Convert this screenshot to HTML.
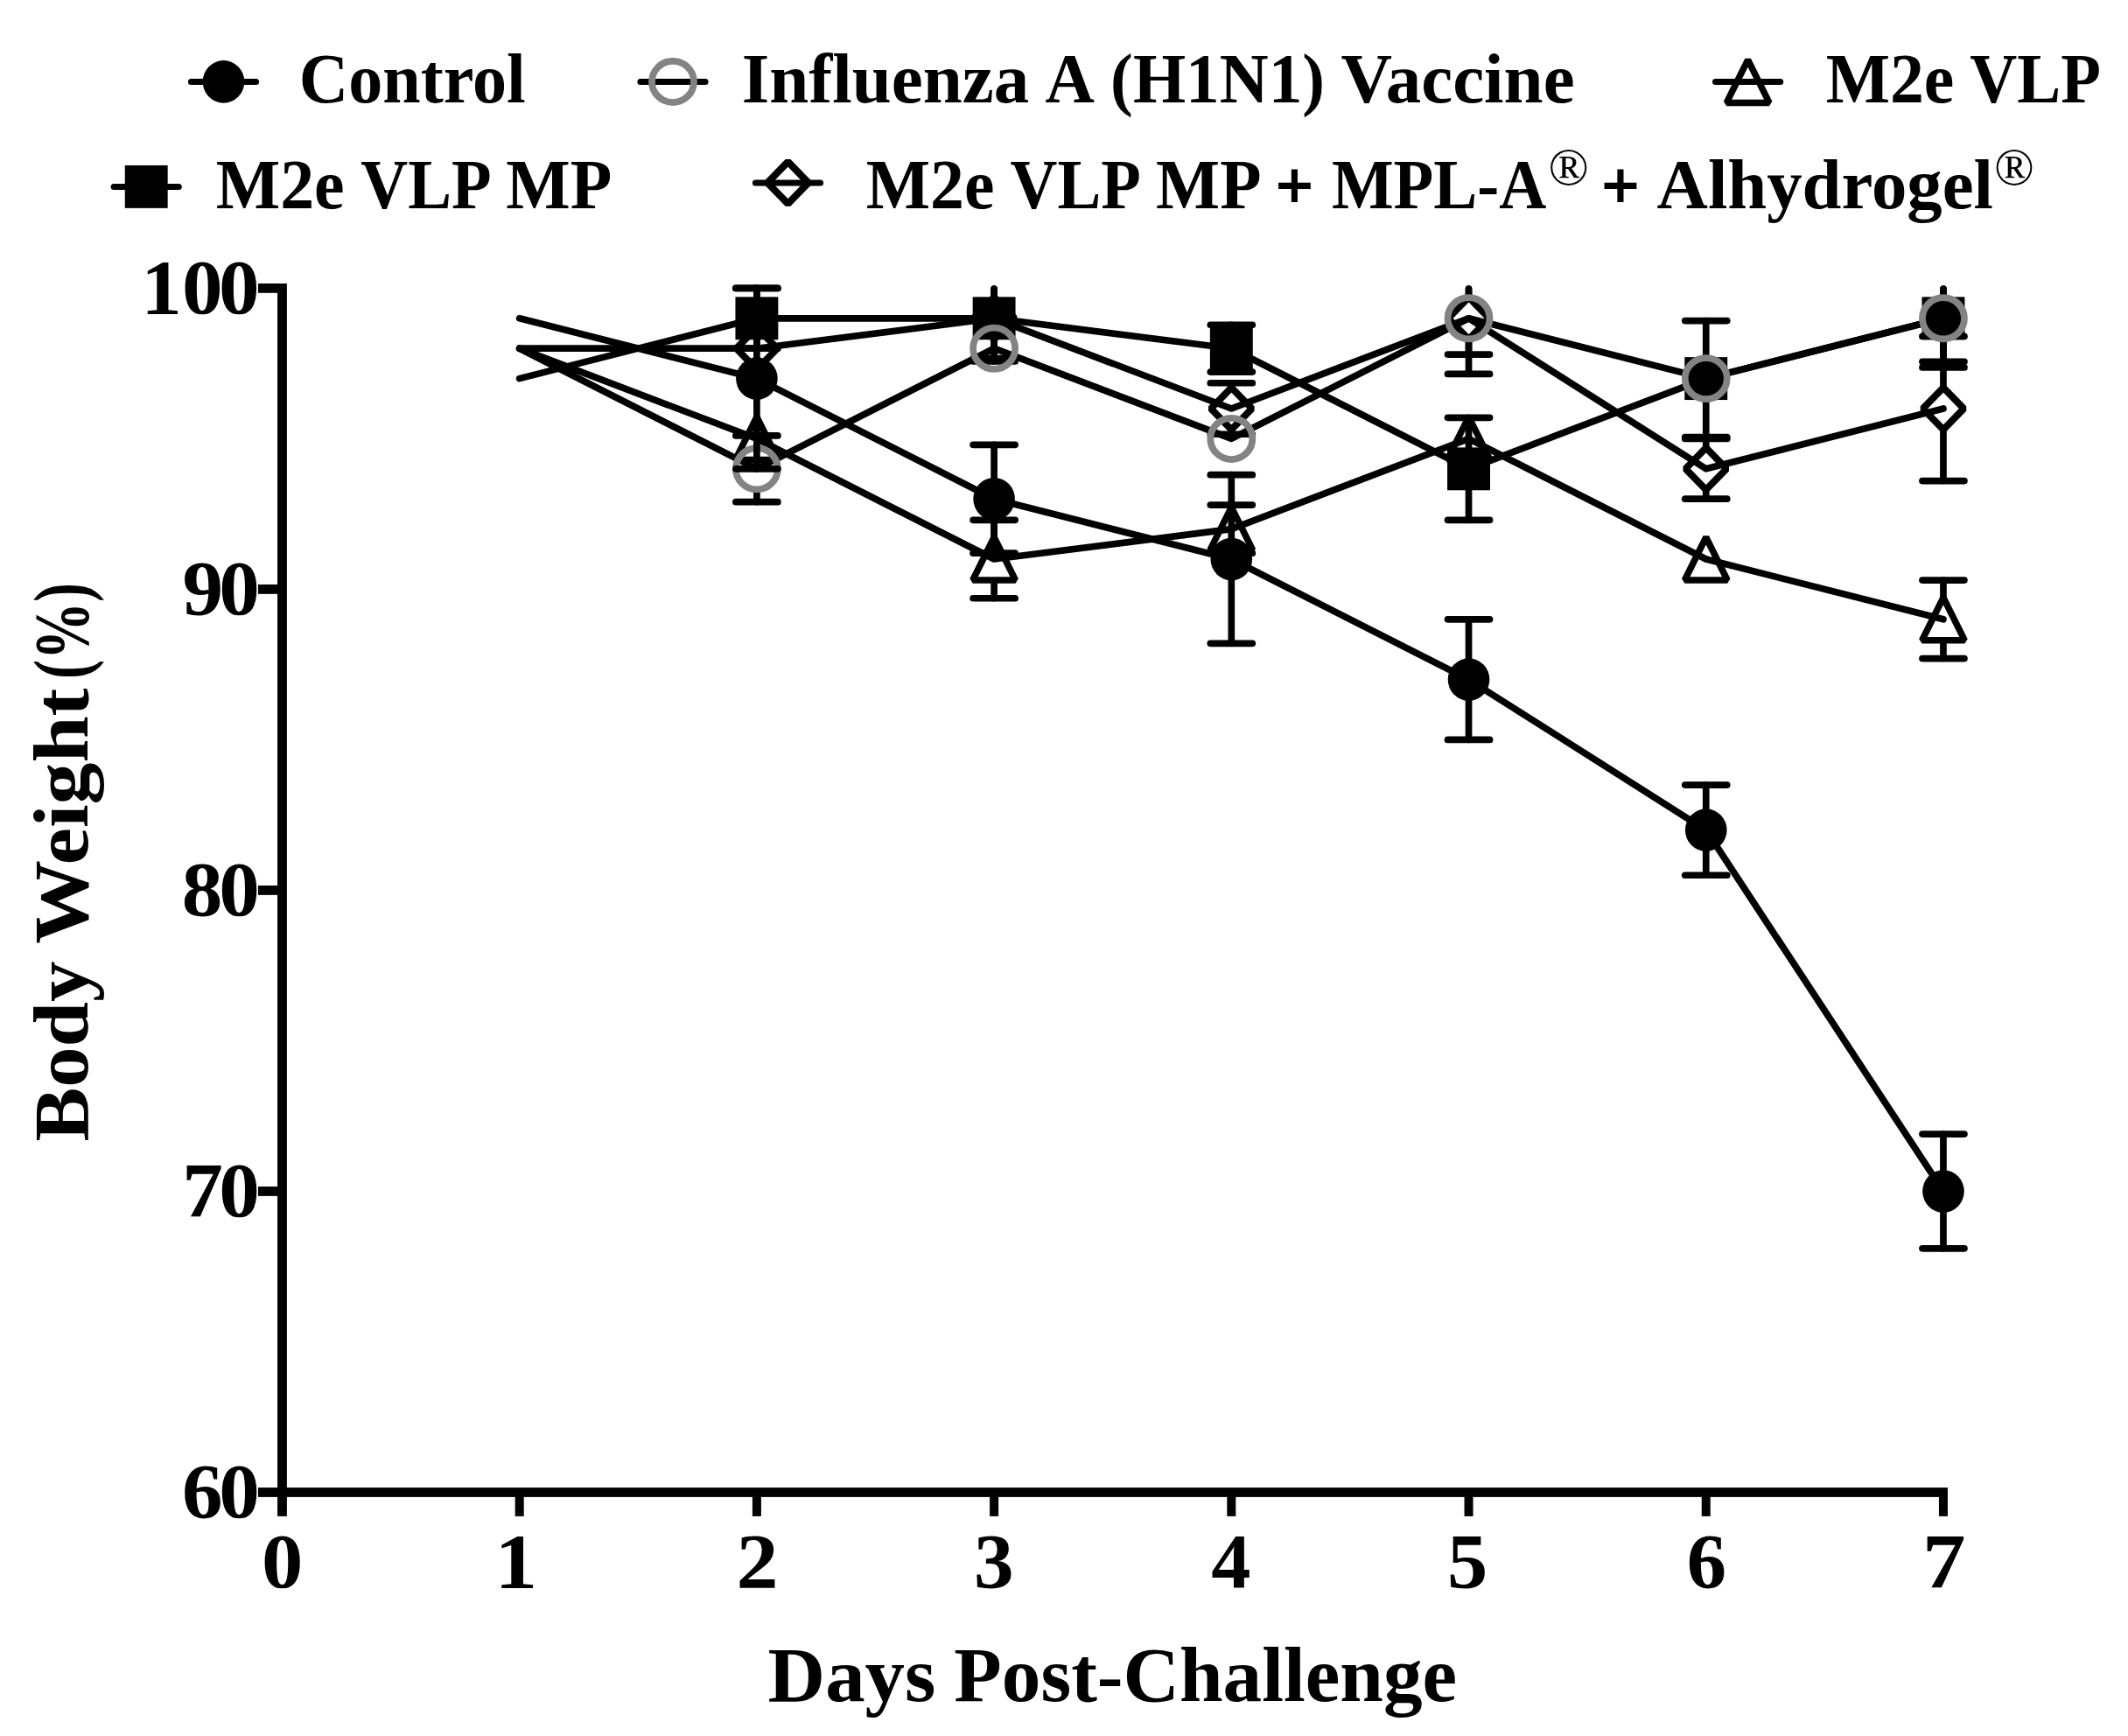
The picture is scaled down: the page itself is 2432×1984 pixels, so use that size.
<!DOCTYPE html>
<html><head><meta charset="utf-8"><title>Body Weight</title>
<style>html,body{margin:0;padding:0;background:#fff}svg{display:block}</style></head>
<body><svg width="2432" height="1984" viewBox="0 0 2432 1984">
<rect width="2432" height="1984" fill="#fff"/>
<g fill="#000">
<rect x="317.08" y="324.00" width="10.8" height="1408.87"/>
<rect x="294.94" y="1700.10" width="1930.98" height="10.8"/>
<rect x="294.94" y="324.00" width="27.54" height="10.8"/>
<rect x="294.94" y="668.02" width="27.54" height="10.8"/>
<rect x="294.94" y="1012.05" width="27.54" height="10.8"/>
<rect x="294.94" y="1356.07" width="27.54" height="10.8"/>
<rect x="588.69" y="1705.50" width="10.0" height="27.37"/>
<rect x="859.90" y="1705.50" width="10.0" height="27.37"/>
<rect x="1131.11" y="1705.50" width="10.0" height="27.37"/>
<rect x="1402.32" y="1705.50" width="10.0" height="27.37"/>
<rect x="1673.53" y="1705.50" width="10.0" height="27.37"/>
<rect x="1944.74" y="1705.50" width="10.0" height="27.37"/>
<rect x="2215.95" y="1705.50" width="10.0" height="27.37"/>
</g>
<g stroke="#000" stroke-width="7.7" stroke-linecap="round" fill="none">
<polyline points="593.69,398.20 864.90,398.20 1136.11,363.80 1407.32,467.01 1678.53,363.80 1949.74,535.82 2220.95,467.01" stroke-linejoin="round"/>
<line x1="1136.11" y1="337.80" x2="1136.11" y2="330.00"/>
<line x1="1136.11" y1="389.80" x2="1136.11" y2="409.56"/>
<line x1="1112.11" y1="409.56" x2="1160.11" y2="409.56"/>
<line x1="1407.32" y1="441.01" x2="1407.32" y2="437.77"/>
<line x1="1383.32" y1="437.77" x2="1431.32" y2="437.77"/>
<line x1="1407.32" y1="493.01" x2="1407.32" y2="496.25"/>
<line x1="1383.32" y1="496.25" x2="1431.32" y2="496.25"/>
<line x1="1678.53" y1="337.80" x2="1678.53" y2="330.00"/>
<line x1="1678.53" y1="389.80" x2="1678.53" y2="405.09"/>
<line x1="1654.53" y1="405.09" x2="1702.53" y2="405.09"/>
<line x1="1949.74" y1="509.82" x2="1949.74" y2="501.41"/>
<line x1="1925.74" y1="501.41" x2="1973.74" y2="501.41"/>
<line x1="1949.74" y1="561.82" x2="1949.74" y2="570.22"/>
<line x1="1925.74" y1="570.22" x2="1973.74" y2="570.22"/>
<line x1="2220.95" y1="441.01" x2="2220.95" y2="384.44"/>
<line x1="2196.95" y1="384.44" x2="2244.95" y2="384.44"/>
<line x1="2220.95" y1="493.01" x2="2220.95" y2="549.58"/>
<line x1="2196.95" y1="549.58" x2="2244.95" y2="549.58"/>
<path d="M864.90,374.20 L888.30,398.20 L864.90,422.20 L841.50,398.20 Z" fill="none" stroke="#000" stroke-width="8" stroke-linejoin="bevel"/>
<path d="M1136.11,339.80 L1159.51,363.80 L1136.11,387.80 L1112.71,363.80 Z" fill="none" stroke="#000" stroke-width="8" stroke-linejoin="bevel"/>
<path d="M1407.32,443.01 L1430.72,467.01 L1407.32,491.01 L1383.92,467.01 Z" fill="none" stroke="#000" stroke-width="8" stroke-linejoin="bevel"/>
<path d="M1678.53,339.80 L1701.93,363.80 L1678.53,387.80 L1655.13,363.80 Z" fill="none" stroke="#000" stroke-width="8" stroke-linejoin="bevel"/>
<path d="M1949.74,511.82 L1973.14,535.82 L1949.74,559.82 L1926.34,535.82 Z" fill="none" stroke="#000" stroke-width="8" stroke-linejoin="bevel"/>
<path d="M2220.95,443.01 L2244.35,467.01 L2220.95,491.01 L2197.55,467.01 Z" fill="none" stroke="#000" stroke-width="8" stroke-linejoin="bevel"/>
<polyline points="593.69,432.61 864.90,363.80 1136.11,363.80 1407.32,398.20 1678.53,535.82 1949.74,432.61 2220.95,363.80" stroke-linejoin="round"/>
<line x1="864.90" y1="363.80" x2="864.90" y2="329.40"/>
<line x1="840.90" y1="329.40" x2="888.90" y2="329.40"/>
<line x1="864.90" y1="363.80" x2="864.90" y2="398.20"/>
<line x1="840.90" y1="398.20" x2="888.90" y2="398.20"/>
<line x1="1136.11" y1="363.80" x2="1136.11" y2="330.00"/>
<line x1="1136.11" y1="363.80" x2="1136.11" y2="413.00"/>
<line x1="1112.11" y1="413.00" x2="1160.11" y2="413.00"/>
<line x1="1407.32" y1="398.20" x2="1407.32" y2="371.37"/>
<line x1="1383.32" y1="371.37" x2="1431.32" y2="371.37"/>
<line x1="1407.32" y1="398.20" x2="1407.32" y2="425.04"/>
<line x1="1383.32" y1="425.04" x2="1431.32" y2="425.04"/>
<line x1="1678.53" y1="535.82" x2="1678.53" y2="477.33"/>
<line x1="1654.53" y1="477.33" x2="1702.53" y2="477.33"/>
<line x1="1678.53" y1="535.82" x2="1678.53" y2="594.30"/>
<line x1="1654.53" y1="594.30" x2="1702.53" y2="594.30"/>
<line x1="1949.74" y1="432.61" x2="1949.74" y2="366.55"/>
<line x1="1925.74" y1="366.55" x2="1973.74" y2="366.55"/>
<line x1="1949.74" y1="432.61" x2="1949.74" y2="499.69"/>
<line x1="1925.74" y1="499.69" x2="1973.74" y2="499.69"/>
<line x1="2220.95" y1="363.80" x2="2220.95" y2="330.00"/>
<line x1="2220.95" y1="363.80" x2="2220.95" y2="413.34"/>
<line x1="2196.95" y1="413.34" x2="2244.95" y2="413.34"/>
<rect x="840.45" y="339.35" width="48.9" height="48.9" fill="#000" stroke="none"/>
<rect x="1111.66" y="339.35" width="48.9" height="48.9" fill="#000" stroke="none"/>
<rect x="1382.87" y="373.75" width="48.9" height="48.9" fill="#000" stroke="none"/>
<rect x="1654.08" y="511.37" width="48.9" height="48.9" fill="#000" stroke="none"/>
<rect x="1925.29" y="408.16" width="48.9" height="48.9" fill="#000" stroke="none"/>
<rect x="2196.50" y="339.35" width="48.9" height="48.9" fill="#000" stroke="none"/>
<polyline points="593.69,398.20 864.90,501.41 1136.11,639.02 1407.32,604.62 1678.53,501.41 1949.74,639.02 2220.95,707.83" stroke-linejoin="round"/>
<line x1="1136.11" y1="613.52" x2="1136.11" y2="594.30"/>
<line x1="1112.11" y1="594.30" x2="1160.11" y2="594.30"/>
<line x1="1136.11" y1="665.52" x2="1136.11" y2="683.75"/>
<line x1="1112.11" y1="683.75" x2="1160.11" y2="683.75"/>
<line x1="1407.32" y1="579.12" x2="1407.32" y2="577.10"/>
<line x1="1383.32" y1="577.10" x2="1431.32" y2="577.10"/>
<line x1="1407.32" y1="631.12" x2="1407.32" y2="632.14"/>
<line x1="1383.32" y1="632.14" x2="1431.32" y2="632.14"/>
<line x1="2220.95" y1="682.33" x2="2220.95" y2="663.10"/>
<line x1="2196.95" y1="663.10" x2="2244.95" y2="663.10"/>
<line x1="2220.95" y1="734.33" x2="2220.95" y2="752.55"/>
<line x1="2196.95" y1="752.55" x2="2244.95" y2="752.55"/>
<path d="M864.90,476.41 L889.30,525.41 L840.50,525.41 Z" fill="none" stroke="#000" stroke-width="7.5" stroke-linejoin="bevel"/>
<path d="M1136.11,614.02 L1160.51,663.02 L1111.71,663.02 Z" fill="none" stroke="#000" stroke-width="7.5" stroke-linejoin="bevel"/>
<path d="M1407.32,579.62 L1431.72,628.62 L1382.92,628.62 Z" fill="none" stroke="#000" stroke-width="7.5" stroke-linejoin="bevel"/>
<path d="M1678.53,476.41 L1702.93,525.41 L1654.13,525.41 Z" fill="none" stroke="#000" stroke-width="7.5" stroke-linejoin="bevel"/>
<path d="M1949.74,614.02 L1974.14,663.02 L1925.34,663.02 Z" fill="none" stroke="#000" stroke-width="7.5" stroke-linejoin="bevel"/>
<path d="M2220.95,682.83 L2245.35,731.83 L2196.55,731.83 Z" fill="none" stroke="#000" stroke-width="7.5" stroke-linejoin="bevel"/>
<polyline points="593.69,398.20 864.90,535.82 1136.11,398.20 1407.32,501.41 1678.53,363.80 1949.74,432.61 2220.95,363.80" stroke-linejoin="round"/>
<line x1="864.90" y1="509.32" x2="864.90" y2="497.97"/>
<line x1="840.90" y1="497.97" x2="888.90" y2="497.97"/>
<line x1="864.90" y1="562.32" x2="864.90" y2="573.66"/>
<line x1="840.90" y1="573.66" x2="888.90" y2="573.66"/>
<line x1="1678.53" y1="337.30" x2="1678.53" y2="330.00"/>
<line x1="1678.53" y1="390.30" x2="1678.53" y2="427.45"/>
<line x1="1654.53" y1="427.45" x2="1702.53" y2="427.45"/>
<line x1="2220.95" y1="337.30" x2="2220.95" y2="330.00"/>
<line x1="2220.95" y1="390.30" x2="2220.95" y2="419.88"/>
<line x1="2196.95" y1="419.88" x2="2244.95" y2="419.88"/>
<ellipse cx="864.90" cy="535.82" rx="24.0" ry="23.6" fill="none" stroke="#838383" stroke-width="7.75"/>
<ellipse cx="1136.11" cy="398.20" rx="24.0" ry="23.6" fill="none" stroke="#838383" stroke-width="7.75"/>
<ellipse cx="1407.32" cy="501.41" rx="24.0" ry="23.6" fill="none" stroke="#838383" stroke-width="7.75"/>
<ellipse cx="1678.53" cy="363.80" rx="24.0" ry="23.6" fill="none" stroke="#838383" stroke-width="7.75"/>
<ellipse cx="1949.74" cy="432.61" rx="24.0" ry="23.6" fill="none" stroke="#838383" stroke-width="7.75"/>
<ellipse cx="2220.95" cy="363.80" rx="24.0" ry="23.6" fill="none" stroke="#838383" stroke-width="7.75"/>
<polyline points="593.69,363.80 864.90,432.61 1136.11,570.22 1407.32,639.02 1678.53,776.63 1949.74,948.65 2220.95,1361.47" stroke-linejoin="round"/>
<line x1="864.90" y1="432.61" x2="864.90" y2="329.40"/>
<line x1="840.90" y1="329.40" x2="888.90" y2="329.40"/>
<line x1="864.90" y1="432.61" x2="864.90" y2="535.82"/>
<line x1="840.90" y1="535.82" x2="888.90" y2="535.82"/>
<line x1="1136.11" y1="570.22" x2="1136.11" y2="508.29"/>
<line x1="1112.11" y1="508.29" x2="1160.11" y2="508.29"/>
<line x1="1136.11" y1="570.22" x2="1136.11" y2="632.14"/>
<line x1="1112.11" y1="632.14" x2="1160.11" y2="632.14"/>
<line x1="1407.32" y1="639.02" x2="1407.32" y2="542.70"/>
<line x1="1383.32" y1="542.70" x2="1431.32" y2="542.70"/>
<line x1="1407.32" y1="639.02" x2="1407.32" y2="735.35"/>
<line x1="1383.32" y1="735.35" x2="1431.32" y2="735.35"/>
<line x1="1678.53" y1="776.63" x2="1678.53" y2="707.83"/>
<line x1="1654.53" y1="707.83" x2="1702.53" y2="707.83"/>
<line x1="1678.53" y1="776.63" x2="1678.53" y2="845.44"/>
<line x1="1654.53" y1="845.44" x2="1702.53" y2="845.44"/>
<line x1="1949.74" y1="948.65" x2="1949.74" y2="897.04"/>
<line x1="1925.74" y1="897.04" x2="1973.74" y2="897.04"/>
<line x1="1949.74" y1="948.65" x2="1949.74" y2="1000.25"/>
<line x1="1925.74" y1="1000.25" x2="1973.74" y2="1000.25"/>
<line x1="2220.95" y1="1361.47" x2="2220.95" y2="1296.11"/>
<line x1="2196.95" y1="1296.11" x2="2244.95" y2="1296.11"/>
<line x1="2220.95" y1="1361.47" x2="2220.95" y2="1426.84"/>
<line x1="2196.95" y1="1426.84" x2="2244.95" y2="1426.84"/>
<ellipse cx="864.90" cy="432.61" rx="23.8" ry="24.3" fill="#000" stroke="none"/>
<ellipse cx="1136.11" cy="570.22" rx="23.8" ry="24.3" fill="#000" stroke="none"/>
<ellipse cx="1407.32" cy="639.02" rx="23.8" ry="24.3" fill="#000" stroke="none"/>
<ellipse cx="1678.53" cy="776.63" rx="23.8" ry="24.3" fill="#000" stroke="none"/>
<ellipse cx="1949.74" cy="948.65" rx="23.8" ry="24.3" fill="#000" stroke="none"/>
<ellipse cx="2220.95" cy="1361.47" rx="23.8" ry="24.3" fill="#000" stroke="none"/>
</g>
<g stroke="#000" stroke-width="7.0" stroke-linecap="round" fill="none">
<line x1="218.40" y1="93.40" x2="292.60" y2="93.40"/>
<ellipse cx="255.50" cy="93.40" rx="23.8" ry="24.3" fill="#000" stroke="none"/>
<line x1="731.90" y1="93.40" x2="806.10" y2="93.40"/>
<ellipse cx="769.00" cy="93.40" rx="24.0" ry="23.6" fill="none" stroke="#838383" stroke-width="7.75"/>
<line x1="1960.50" y1="93.40" x2="2034.70" y2="93.40"/>
<path d="M1997.60,68.40 L2022.00,117.40 L1973.20,117.40 Z" fill="none" stroke="#000" stroke-width="7.5" stroke-linejoin="bevel"/>
<line x1="130.10" y1="213.40" x2="204.30" y2="213.40"/>
<rect x="142.75" y="188.95" width="48.9" height="48.9" fill="#000" stroke="none"/>
<line x1="863.40" y1="208.90" x2="937.60" y2="208.90"/>
<path d="M900.50,184.90 L923.90,208.90 L900.50,232.90 L877.10,208.90 Z" fill="none" stroke="#000" stroke-width="8" stroke-linejoin="bevel"/>
</g>
<g fill="#000" font-family="'Liberation Serif', serif" stroke="none">
<text transform="translate(341.79,117.00) scale(0.9840,1)" font-size="79.39" font-weight="bold" >Control</text>
<text transform="translate(847.67,117.00) scale(1.0203,1)" font-size="79.39" font-weight="bold" >Influenza</text>
<text transform="translate(1194.62,117.00) scale(0.9827,1)" font-size="79.39" font-weight="bold" >A</text>
<text transform="translate(1269.12,117.00) scale(0.9749,1)" font-size="79.39" font-weight="bold" >(H1N1)</text>
<text transform="translate(1532.59,117.00) scale(1.0208,1)" font-size="79.39" font-weight="bold" >Vaccine</text>
<text transform="translate(2086.64,117.00) scale(0.9783,1)" font-size="79.39" font-weight="bold" >M2e</text>
<text transform="translate(2251.25,117.00) scale(0.9422,1)" font-size="79.39" font-weight="bold" >VLP</text>
<text transform="translate(246.74,237.90) scale(0.9804,1)" font-size="79.39" font-weight="bold" >M2e</text>
<text transform="translate(412.35,237.90) scale(0.9409,1)" font-size="79.39" font-weight="bold" >VLP</text>
<text transform="translate(578.24,237.90) scale(0.9810,1)" font-size="79.39" font-weight="bold" >MP</text>
<text transform="translate(989.64,237.90) scale(0.9797,1)" font-size="79.39" font-weight="bold" >M2e</text>
<text transform="translate(1154.55,237.90) scale(0.9409,1)" font-size="79.39" font-weight="bold" >VLP</text>
<text transform="translate(1321.04,237.90) scale(0.9760,1)" font-size="79.39" font-weight="bold" >MP</text>
<text transform="translate(1521.89,237.90) scale(0.9438,1)" font-size="79.39" font-weight="bold" >MPL-A</text>
<text transform="translate(1893.59,237.90) scale(1.0173,1)" font-size="79.39" font-weight="bold" >Alhydrogel</text>
<text stroke="#000" stroke-width="1.9" transform="translate(1458.05,237.60) scale(0.9927,1)" font-size="75.71" font-weight="bold" >+</text>
<text stroke="#000" stroke-width="1.9" transform="translate(1830.60,237.60) scale(0.9941,1)" font-size="75.71" font-weight="bold" >+</text>
<text x="1769.51" y="210.59" font-size="61.04">®</text>
<text x="2278.93" y="210.60" font-size="60.44">®</text>
<text transform="translate(877.61,1944.20) scale(1.0239,1)" font-size="88.70" font-weight="bold" >Days</text>
<text transform="translate(1090.34,1944.20) scale(1.0058,1)" font-size="88.70" font-weight="bold" >Post-Challenge</text>
<text transform="translate(100.00,1304.62) rotate(-90) scale(1.0452,1)" font-size="88.70" font-weight="bold">Body</text>
<text transform="translate(100.00,1078.73) rotate(-90) scale(1.0780,1)" font-size="88.70" font-weight="bold">Weight</text>
<text transform="translate(100.00,775.97) rotate(-90) scale(0.7432,1)" font-size="88.70" font-weight="bold">(%)</text>
<text transform="translate(299.04,1814.20) scale(1.0775,1)" font-size="88.0" font-weight="bold">0</text>
<text transform="translate(565.53,1814.20) scale(1.1039,1)" font-size="88.0" font-weight="bold">1</text>
<text transform="translate(841.61,1814.20) scale(1.0926,1)" font-size="88.0" font-weight="bold">2</text>
<text transform="translate(1112.98,1814.20) scale(1.0367,1)" font-size="88.0" font-weight="bold">3</text>
<text transform="translate(1384.37,1814.20) scale(1.0276,1)" font-size="88.0" font-weight="bold">4</text>
<text transform="translate(1653.90,1814.20) scale(1.0516,1)" font-size="88.0" font-weight="bold">5</text>
<text transform="translate(1927.73,1814.20) scale(1.0293,1)" font-size="88.0" font-weight="bold">6</text>
<text transform="translate(2197.01,1814.20) scale(1.1241,1)" font-size="88.0" font-weight="bold">7</text>
<text transform="translate(0,357.80) scale(1.06,1)" font-size="88.0" font-weight="bold"><tspan x="152.21">1</tspan><tspan x="196.21">0</tspan><tspan x="235.92">0</tspan></text>
<text transform="translate(0,701.82) scale(1.06,1)" font-size="88.0" font-weight="bold"><tspan x="196.77">9</tspan><tspan x="236.07">0</tspan></text>
<text transform="translate(0,1045.85) scale(1.06,1)" font-size="88.0" font-weight="bold"><tspan x="195.97">8</tspan><tspan x="236.07">0</tspan></text>
<text transform="translate(0,1389.88) scale(1.06,1)" font-size="88.0" font-weight="bold"><tspan x="196.38">7</tspan><tspan x="236.07">0</tspan></text>
<text transform="translate(0,1733.90) scale(1.06,1)" font-size="88.0" font-weight="bold"><tspan x="196.22">6</tspan><tspan x="236.07">0</tspan></text>
</g>
</svg></body></html>
